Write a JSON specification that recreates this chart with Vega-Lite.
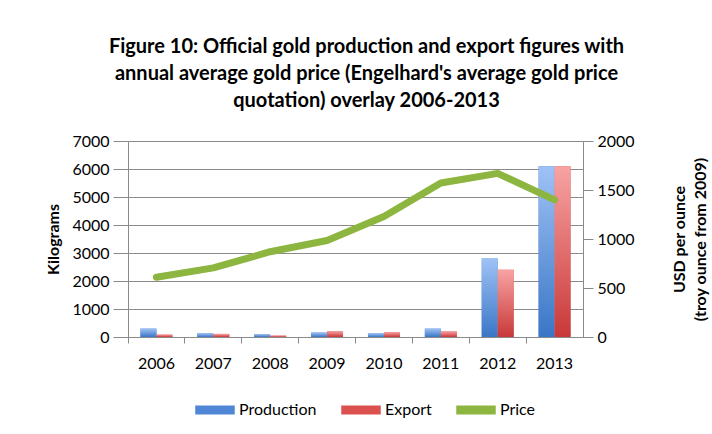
{
  "$schema": "https://vega.github.io/schema/vega-lite/v6.json",
  "autosize": {"type": "none"},
  "width": 455,
  "height": 196,
  "padding": {"left": 128, "top": 141, "right": 129, "bottom": 97},
  "background": "white",
  "title": {
    "text": ["Figure 10: Official gold production and export figures with", "annual average gold price (Engelhard's average gold price", "quotation) overlay 2006-2013"],
    "font": "Lato",
    "fontSize": 20,
    "fontWeight": "bold",
    "color": "#000000",
    "lineHeight": 27,
    "anchor": "middle",
    "dx": 11,
    "offset": 22
  },
  "datasets": {
    "bars": [
      {"year": "2006", "series": "Production", "kg": 300},
      {"year": "2006", "series": "Export", "kg": 85},
      {"year": "2007", "series": "Production", "kg": 130},
      {"year": "2007", "series": "Export", "kg": 110},
      {"year": "2008", "series": "Production", "kg": 100},
      {"year": "2008", "series": "Export", "kg": 50},
      {"year": "2009", "series": "Production", "kg": 160},
      {"year": "2009", "series": "Export", "kg": 210},
      {"year": "2010", "series": "Production", "kg": 130},
      {"year": "2010", "series": "Export", "kg": 170},
      {"year": "2011", "series": "Production", "kg": 300},
      {"year": "2011", "series": "Export", "kg": 200},
      {"year": "2012", "series": "Production", "kg": 2800},
      {"year": "2012", "series": "Export", "kg": 2400},
      {"year": "2013", "series": "Production", "kg": 6100},
      {"year": "2013", "series": "Export", "kg": 6100}
    ],
    "price": [
      {"year": "2006", "usd": 610},
      {"year": "2007", "usd": 705},
      {"year": "2008", "usd": 870},
      {"year": "2009", "usd": 985},
      {"year": "2010", "usd": 1230},
      {"year": "2011", "usd": 1571},
      {"year": "2012", "usd": 1670},
      {"year": "2013", "usd": 1400}
    ]
  },
  "encoding": {
    "x": {
      "field": "year",
      "type": "ordinal",
      "scale": {"paddingInner": 0, "paddingOuter": 0, "domain": ["2006","2007","2008","2009","2010","2011","2012","2013"]},
      "axis": {
        "title": null,
        "labelAngle": 0,
        "labelFont": "Lato",
        "labelFontSize": 16,
        "labelColor": "#000000",
        "labelPadding": 12,
        "domainColor": "#8a8a8a",
        "tickColor": "#8a8a8a",
        "tickSize": 6,
        "bandPosition": 0,
        "grid": false
      }
    }
  },
  "layer": [
    {
      "data": {"name": "bars"},
      "encoding": {
        "xOffset": {"field": "series", "type": "nominal", "scale": {"domain": ["Production", "Export"], "paddingInner": 0, "paddingOuter": 0.78}},
        "y": {
          "field": "kg", "type": "quantitative",
          "scale": {"domain": [0, 7000], "nice": false},
          "axis": {
            "title": "Kilograms",
            "titleFont": "Lato", "titleFontSize": 16, "titleFontWeight": "bold", "titleColor": "#000000",
            "titlePadding": 10,
            "format": "d",
            "values": [0,1000,2000,3000,4000,5000,6000,7000],
            "labelFont": "Lato", "labelFontSize": 16, "labelColor": "#000000",
            "labelPadding": 4,
            "tickSize": 15, "tickColor": "#8a8a8a",
            "domainColor": "#8a8a8a",
            "grid": true, "gridColor": "#8a8a8a", "gridWidth": 1
          }
        }
      },
      "layer": [
        {
          "mark": {"type": "bar"},
          "encoding": {
            "color": {
              "field": "series", "type": "nominal",
              "scale": {"domain": ["Production", "Export", "Price"], "range": ["#4f86d6", "#dd5050", "#8db640"]},
              "legend": {
                "title": null,
                "orient": "none",
                "direction": "horizontal",
                "legendX": 67,
                "legendY": 249,
                "symbolType": "M-1,-0.2H1V0.2H-1Z",
                "symbolSize": 1444,
                "labelFont": "Lato",
                "labelFontSize": 16,
                "labelColor": "#000000",
                "labelOffset": 4,
                "columnPadding": 22,
                "encode": {"symbols": {"update": {"fill": {"scale": "color", "field": "value"}, "stroke": {"value": "transparent"}, "opacity": {"value": 1}}}}
              }
            }
          }
        },
        {
          "transform": [{"filter": "datum.series === 'Production'"}],
          "mark": {"type": "bar", "fill": {"gradient": "linear", "x1": 0, "y1": 0, "x2": 0, "y2": 1, "stops": [{"offset": 0, "color": "#9fc2f5"}, {"offset": 1, "color": "#3a76c6"}]}}
        },
        {
          "transform": [{"filter": "datum.series === 'Export'"}],
          "mark": {"type": "bar", "fill": {"gradient": "linear", "x1": 0, "y1": 0, "x2": 0, "y2": 1, "stops": [{"offset": 0, "color": "#f8a3a3"}, {"offset": 1, "color": "#c93838"}]}}
        }
      ]
    },
    {
      "data": {"name": "price"},
      "mark": {"type": "line", "strokeWidth": 7, "strokeCap": "round", "strokeJoin": "round"},
      "encoding": {
        "y": {
          "field": "usd", "type": "quantitative",
          "scale": {"domain": [0, 2000], "nice": false},
          "axis": {
            "orient": "right",
            "title": ["USD per ounce", "(troy ounce from 2009)"],
            "titleAngle": 270,
            "titleFont": "Lato", "titleFontSize": 16, "titleFontWeight": "bold", "titleColor": "#000000",
            "titleLineHeight": 21,
            "titlePadding": 32,
            "format": "d",
            "values": [0, 500, 1000, 1500, 2000],
            "labelFont": "Lato", "labelFontSize": 16, "labelColor": "#000000",
            "labelPadding": 4,
            "tickSize": 10, "tickColor": "#8a8a8a",
            "domainColor": "#8a8a8a",
            "grid": false
          }
        },
        "color": {"datum": "Price"}
      }
    }
  ],
  "resolve": {"scale": {"y": "independent"}},
  "config": {"view": {"stroke": null}}
}
